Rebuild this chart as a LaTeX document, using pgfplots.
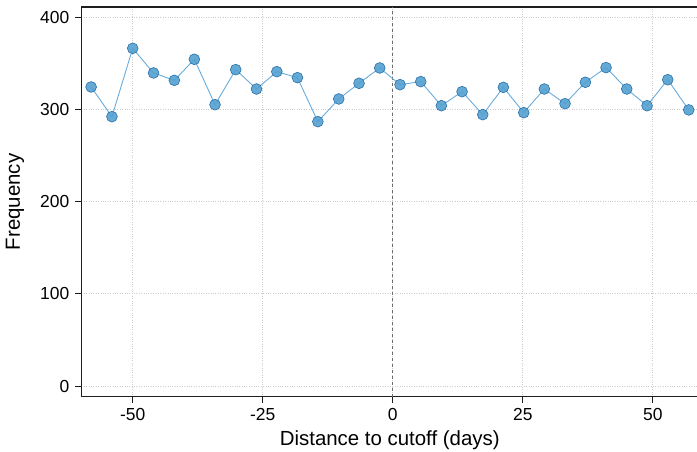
\documentclass[border=0pt]{standalone}
\usepackage{fontspec}
\setmainfont{Liberation Sans}
\usepackage{pgfplots}
\pgfplotsset{compat=1.18}
\usetikzlibrary{calc}
\definecolor{mfill}{RGB}{84,160,208}
\definecolor{mdraw}{RGB}{40,112,170}
\definecolor{lcol}{RGB}{105,172,220}
\definecolor{gridc}{RGB}{205,205,205}
\definecolor{axc}{RGB}{30,30,30}
\begin{document}
\begin{tikzpicture}
\begin{axis}[
  name=ax,
  scale only axis,
  width=616.5bp, height=389.7bp,
  xmin=-59.85, xmax=58.7,
  ymin=-11.6, ymax=410.9,
  xtick={-50,-25,0,25,50},
  ytick={0,100,200,300,400},
  xticklabels={-50,-25,0,25,50},
  xtick pos=bottom, ytick pos=left,
  /pgf/number format/assume math mode=true,
  tick align=outside,
  major tick length=6bp,
  tick style={axc, line width=0.8bp},
  axis line style={axc, line width=1.3bp},
  grid=major,
  major grid style={gridc, dotted, line width=0.8bp},
  ticklabel style={font=\fontsize{17.5}{19}\selectfont, inner sep=0pt},
  yticklabel shift=6bp,
  xticklabel shift=5bp,
  xlabel={Distance to cutoff (days)},
  ylabel={Frequency},
  label style={font=\fontsize{20.5}{23}\selectfont},
  xlabel style={at={(axis description cs:0.5,-0.1111)}, anchor=center},
  ylabel style={at={(axis description cs:-0.1079,0.5)}, anchor=center},
  clip=false,
]
\addplot[gray!85!black, dashed, line width=0.9bp, forget plot] coordinates {(0,-11.6) (0,410.9)};
\addplot[lcol, line width=0.9bp, mark=*, mark size=5.4bp,
  mark options={fill=mfill, draw=mdraw, line width=0.6bp, fill opacity=0.9}]
  coordinates {
  (-58.0,324.2) (-54.0,292.0) (-50.0,366.1) (-46.0,339.4) (-42.0,331.4)
  (-38.15,354.2) (-34.17,305.0) (-30.19,343.0) (-26.2,322.0) (-22.29,340.8)
  (-18.33,334.3) (-14.4,286.6) (-10.38,311.2) (-6.48,328.2) (-2.5,344.8)
  (1.40,326.7) (5.38,330.0) (9.35,303.9) (13.33,319.1) (17.31,294.2)
  (21.27,323.8) (25.19,296.4) (29.15,322.0) (33.13,306.1) (37.04,329.3)
  (41.02,345.2) (45.0,322.0) (48.9,303.9) (52.88,332.1) (56.92,299.3)
  };
\end{axis}
\pgfresetboundingbox
\path[use as bounding box] ($(ax.south west)+(-81.5bp,-55.3bp)$) rectangle ($(ax.north east)+(-1bp,7bp)$);
\end{tikzpicture}
\end{document}
